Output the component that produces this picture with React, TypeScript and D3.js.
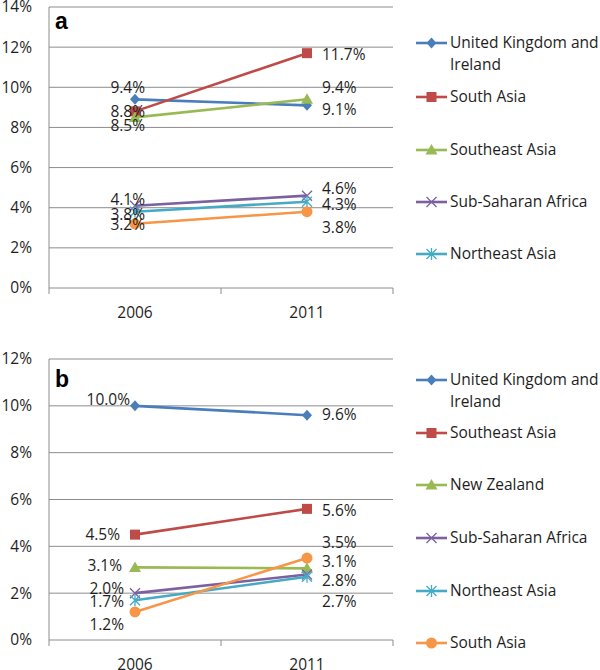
import React from 'react';
import * as d3 from 'd3';

// ---------- DATA ----------
const years = ['2006', '2011'];

const namesA = ['United Kingdom and Ireland', 'South Asia', 'Southeast Asia', 'Sub-Saharan Africa', 'Northeast Asia', ''];
const a2006 = [9.4, 8.8, 8.5, 4.1, 3.8, 3.2];
const a2011 = [9.1, 11.7, 9.4, 4.6, 4.3, 3.8];
const ticksA = [0, 2, 4, 6, 8, 10, 12, 14];

const namesB = ['United Kingdom and Ireland', 'Southeast Asia', 'New Zealand', 'Sub-Saharan Africa', 'Northeast Asia', 'South Asia'];
const b2006 = [10.0, 4.5, 3.1, 2.0, 1.7, 1.2];
const b2011 = [9.6, 5.6, 3.06, 2.8, 2.7, 3.5];
const ticksB = [0, 2, 4, 6, 8, 10, 12];

// ---------- STYLE / LAYOUT ----------
const colors = ['#4A7EBB', '#BE4B48', '#98B954', '#7D60A0', '#46AAC5', '#F79646'];
const shapes = ['diamond', 'square', 'triangle', 'x', 'star', 'circle'];
const FONT = '"Open Sans", "Liberation Sans", sans-serif';
const FS = 15.5;
const TXT = '#1e1e1e';
const GRID = '#8c8c8c';

// label offsets (dx, dy) relative to marker: [2006 per series], [2011 per series]
const labA = {
  dx0: [10, 10, 10, 10, 10, 10], dy0: [-6, 6, 14, -1, 8, 6],
  dx1: [15, 15, 15, 15, 15, 15], dy1: [10, 7, -6, -2, 8, 21],
};
const labB = {
  dx0: [-5, -15, -13, -11, -11, -11], dy0: [-1, 5, 4, 1, 7, 18],
  dx1: [15, 15, 15, 15, 15, 15], dy1: [5, 7, -1, 12, 30, -10],
};

function Marker({ shape, x, y, color }: { shape: string; x: number; y: number; color: string }) {
  const s = 5;
  switch (shape) {
    case 'diamond':
      return <path d={`M${x},${y - s - 0.5}L${x + s},${y}L${x},${y + s + 0.5}L${x - s},${y}Z`} fill={color} />;
    case 'square':
      return <rect x={x - 5} y={y - 5} width={10} height={10} fill={color} />;
    case 'triangle':
      return <path d={`M${x},${y - 6}L${x + 6},${y + 4.5}L${x - 6},${y + 4.5}Z`} fill={color} />;
    case 'circle':
      return <circle cx={x} cy={y} r={5.5} fill={color} />;
    case 'x':
      return (
        <path d={`M${x - 5},${y - 5}L${x + 5},${y + 5}M${x - 5},${y + 5}L${x + 5},${y - 5}`} stroke={color} strokeWidth={1.3} fill="none" />
      );
    case 'star':
      return (
        <path d={`M${x - 5},${y - 5}L${x + 5},${y + 5}M${x - 5},${y + 5}L${x + 5},${y - 5}M${x},${y - 6}L${x},${y + 6}`} stroke={color} strokeWidth={1.3} fill="none" />
      );
    default:
      return null;
  }
}

function Panel({
  names, v0, v1, ticks, yTop, yBottom, letter, letterY, lab, legendY,
}: {
  names: string[]; v0: number[]; v1: number[]; ticks: number[]; yTop: number; yBottom: number;
  letter: string; letterY: number; lab: any; legendY: number[];
}) {
  const x = d3.scaleBand().domain(years).range([49, 393]).padding(0);
  const cx = (yr: string) => (x(yr) as number) + x.bandwidth() / 2;
  const y = d3.scaleLinear().domain([0, d3.max(ticks) as number]).range([yBottom, yTop]);
  const line = d3.line<[number, number]>().x((d) => d[0]).y((d) => d[1]);
  const fmt = (v: number) => v.toFixed(1) + '%';
  const left = 49, right = 393;
  const bounds = [left, (x('2011') as number), right];

  return (
    <g>
      {ticks.map((t) => (
        <g key={t}>
          <line x1={left} x2={right} y1={y(t)} y2={y(t)} stroke={GRID} strokeWidth={1} />
          <text x={32} y={y(t)} dy="0.35em" textAnchor="end" fontSize={FS} fontFamily={FONT} fill={TXT}>{t}%</text>
        </g>
      ))}
      <line x1={left} x2={left} y1={yTop} y2={yBottom} stroke={GRID} strokeWidth={1} />
      {bounds.map((b, i) => (
        <line key={i} x1={b} x2={b} y1={yBottom} y2={yBottom + 6} stroke={GRID} strokeWidth={1} />
      ))}
      {years.map((yr) => (
        <text key={yr} x={cx(yr)} y={yBottom + 25} dy="0.35em" textAnchor="middle" fontSize={FS} fontFamily={FONT} fill={TXT}>{yr}</text>
      ))}
      <text x={55} y={letterY} fontSize={23} fontWeight="bold" fontFamily='"Liberation Sans", Arial, sans-serif' fill="#000">{letter}</text>
      {names.map((n, i) => {
        const pts: [number, number][] = [[cx(years[0]), y(v0[i])], [cx(years[1]), y(v1[i])]];
        return (
          <g key={i}>
            <path d={line(pts) as string} stroke={colors[i]} strokeWidth={2.6} fill="none" />
            {pts.map((p, j) => (
              <Marker key={j} shape={shapes[i]} x={p[0]} y={p[1]} color={colors[i]} />
            ))}
          </g>
        );
      })}
      {names.map((n, i) => (
        <g key={'l' + i}>
          <text x={cx(years[0]) + lab.dx0[i]} y={y(v0[i]) + lab.dy0[i]} textAnchor="end" fontSize={FS} fontFamily={FONT} fill={TXT}>{fmt(v0[i])}</text>
          <text x={cx(years[1]) + lab.dx1[i]} y={y(v1[i]) + lab.dy1[i]} textAnchor="start" fontSize={FS} fontFamily={FONT} fill={TXT}>{fmt(v1[i])}</text>
        </g>
      ))}
      {names.map((n, i) => {
        if (!n) return null;
        const ly = legendY[i];
        const words = n === 'United Kingdom and Ireland' ? ['United Kingdom and', 'Ireland'] : [n];
        return (
          <g key={'lg' + i}>
            <line x1={416} x2={447} y1={ly} y2={ly} stroke={colors[i]} strokeWidth={2.6} />
            <Marker shape={shapes[i]} x={431.5} y={ly} color={colors[i]} />
            {words.map((w, k) => (
              <text key={k} x={450} y={ly + k * 22} dy="0.35em" fontSize={FS} fontFamily={FONT} fill={TXT}>{w}</text>
            ))}
          </g>
        );
      })}
    </g>
  );
}

export default function App() {
  const legA = [43, 97, 150, 202, 254, 306];
  const legB = [380, 433, 485, 538, 591, 643];
  return (
    <svg width={600} height={670} style={{ position: 'absolute', left: 0, top: 0, background: '#fff' }}>
      <rect width={600} height={670} fill="#fff" />
      <Panel names={namesA} v0={a2006} v1={a2011} ticks={ticksA} yTop={7} yBottom={288} letter="a" letterY={29} lab={labA} legendY={legA} />
      <Panel names={namesB} v0={b2006} v1={b2011} ticks={ticksB} yTop={359} yBottom={640} letter="b" letterY={387} lab={labB} legendY={legB} />
    </svg>
  );
}
